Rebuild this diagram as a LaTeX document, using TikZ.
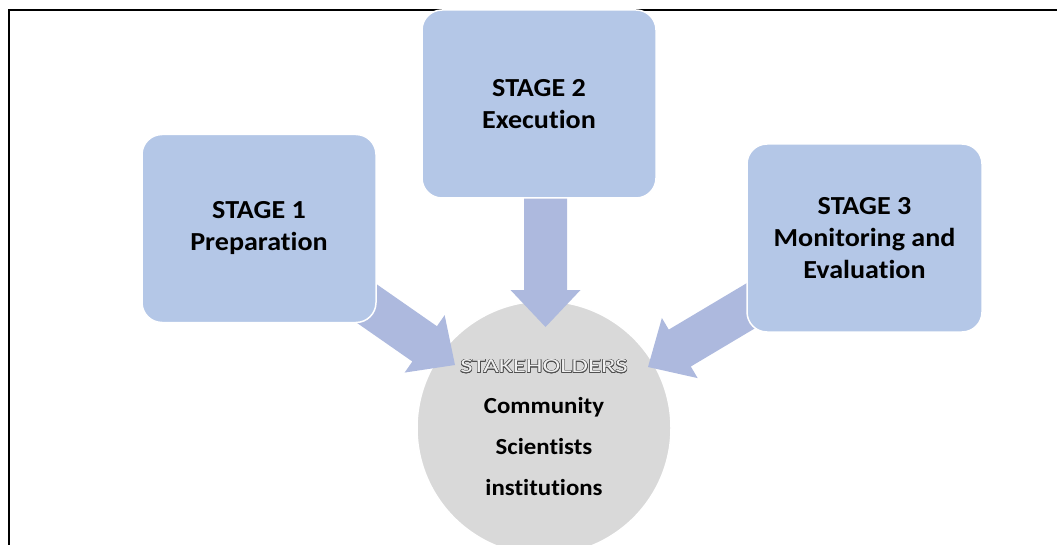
\documentclass[tikz,border=0pt]{standalone}
\usepackage{fontspec}
\setmainfont{Carlito}[FakeStretch=1.08, Ligatures=NoCommon]
\usepackage{contour}
\contourlength{0.45pt}
\usetikzlibrary{calc}
\definecolor{boxblue}{HTML}{B4C7E7}
\definecolor{arrowblue}{HTML}{ADB9DE}
\definecolor{circgray}{HTML}{D9D9D9}
\definecolor{outlinegray}{HTML}{505050}
\pgfdeclarelayer{bottom}
\pgfdeclarelayer{back}
\pgfsetlayers{bottom,back,main}
\newcommand\mkblockarrow[2]{%
  \coordinate (ab) at ($(#2)!37pt!(#1)$);
  \fill[arrowfill] ($(#1)!21.5pt!-90:(#2)$) -- ($(ab)!21.5pt!90:(#1)$) --
    ($(ab)!35pt!90:(#1)$) -- (#2) -- ($(ab)!35pt!-90:(#1)$) --
    ($(ab)!21.5pt!-90:(#1)$) -- ($(#1)!21.5pt!90:(#2)$) -- cycle;}
\tikzset{
  stagebox/.style={draw=white, line width=1.5pt, fill=boxblue, rounded corners=20pt,
    minimum width=234pt, minimum height=188pt, align=center, inner sep=0pt,
    font=\fontsize{26}{32}\selectfont\bfseries},
  hub/.style={circle, draw=white, line width=1.5pt, fill=circgray, minimum size=254pt,
    inner sep=0pt, align=center, font=\fontsize{23}{41}\selectfont\bfseries},
  arrowfill/.style={fill=arrowblue},
  frameline/.style={line width=2pt, draw=black}
}
\begin{document}
\begin{tikzpicture}[x=1pt, y=-1pt]
\useasboundingbox (0,0) rectangle (1057,545);
\clip (0,0) rectangle (1057,545);
\draw[frameline] (9,545) -- (9,10) -- (1057,10);
\node[stagebox] (s1) at (259,228.5) {STAGE 1\\Preparation};
\node[stagebox] (s2) at (539,104) {STAGE 2\\Execution};
\node[stagebox, minimum width=235pt] (s3) at (864.5,238) {STAGE 3\\Monitoring and\\Evaluation};
\begin{pgfonlayer}{bottom}
\node[hub] (hub) at (544,428) {{\fontsize{20}{41}\selectfont\mdseries\scalebox{1.24}[1.0]{\contour{outlinegray}{\textcolor{circgray!40!white}{STAKEHOLDERS}}}}\\Community\\Scientists\\institutions};
\end{pgfonlayer}
\coordinate (t1) at (455,365);
\coordinate (t2) at (545.5,327);
\coordinate (t3) at (648,367);
\begin{pgfonlayer}{back}
\mkblockarrow{s1.center}{t1}
\mkblockarrow{s2.center -| t2}{t2}
\mkblockarrow{s3.center}{t3}
\end{pgfonlayer}
\end{tikzpicture}
\end{document}
